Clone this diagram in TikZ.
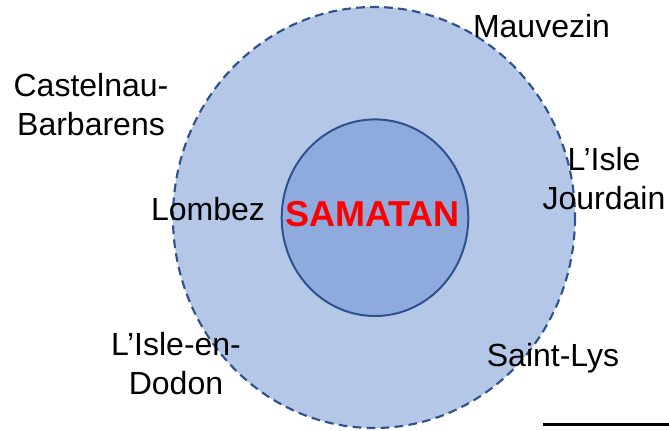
\documentclass[tikz,border=0pt]{standalone}
\usepackage{fontspec}
\setmainfont{Liberation Sans}
\usepackage{tikz}

\definecolor{ZoneOuter}{HTML}{B4C7E7}
\definecolor{ZoneInner}{HTML}{8FAADC}
\definecolor{ZoneEdge}{HTML}{2F528F}
\definecolor{TownRed}{HTML}{FF0000}

\begin{document}
\begin{tikzpicture}[x=0.75pt,y=-0.75pt,
                      town/.style={inner sep=0pt,align=center,font={\fontsize{24}{29.5}\selectfont}},
                      centre/.style={inner sep=0pt,text=TownRed,font={\fontsize{27}{32}\selectfont\bfseries}},
                      outerzone/.style={fill=ZoneOuter,draw=ZoneEdge,line width=1.6pt,dash pattern=on 6.5pt off 4pt},
                      innerzone/.style={fill=ZoneInner,draw=ZoneEdge,line width=1.5pt}]
    \useasboundingbox (0,0) rectangle (669,430);
    % zones
    \draw[outerzone] (374,217.5) ellipse [x radius=201,y radius=210.5];
    \draw[innerzone] (375,217.7) ellipse [x radius=93.3,y radius=98.3];
    % towns
    \node[centre,anchor=base] (samatan) at (372.5,226) {SAMATAN};
    \node[town,anchor=base] (mauvezin) at (541.5,37) {Mauvezin};
    \node[town] (castelnau) at (91,104.5) {Castelnau-\\Barbarens};
    \node[town,anchor=base] (lombez) at (208,220) {Lombez};
    \node[town] (islejourdain) at (604,178.5) {L’Isle\\Jourdain};
    \node[town] (isledodon) at (176,363.5) {L’Isle-en-\\Dodon};
    \node[town,anchor=base] (saintlys) at (553,366) {Saint-Lys};
    % scale bar
    \coordinate (bar-a) at (543,424.7);
    \coordinate (bar-b) at (672,424.7);
    \draw[line width=2.6pt] (bar-a) -- (bar-b);
  \end{tikzpicture}
\end{document}
